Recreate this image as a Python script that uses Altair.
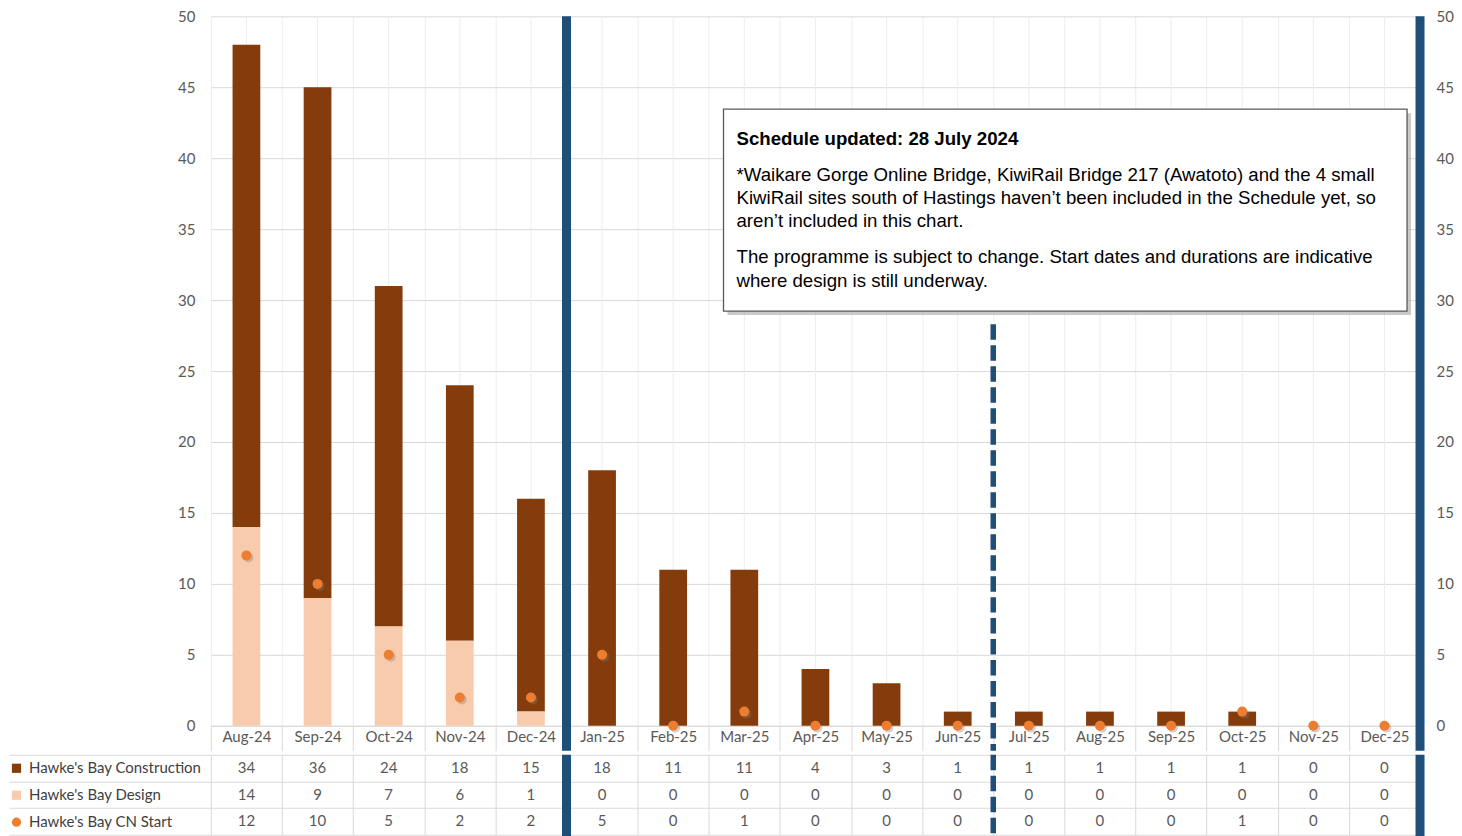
import altair as alt
import pandas as pd

# ---------------- data ----------------
months = ["Aug-24", "Sep-24", "Oct-24", "Nov-24", "Dec-24", "Jan-25", "Feb-25",
          "Mar-25", "Apr-25", "May-25", "Jun-25", "Jul-25", "Aug-25", "Sep-25",
          "Oct-25", "Nov-25", "Dec-25"]
construction = [34, 36, 24, 18, 15, 18, 11, 11, 4, 3, 1, 1, 1, 1, 1, 0, 0]
design = [14, 9, 7, 6, 1, 0, 0, 0, 0, 0, 0, 0, 0, 0, 0, 0, 0]
cn_start = [12, 10, 5, 2, 2, 5, 0, 1, 0, 0, 0, 0, 0, 0, 1, 0, 0]

series_names = ["Hawke's Bay Construction", "Hawke's Bay Design", "Hawke's Bay CN Start"]
series_colors = ["#843C0C", "#F8CBAD", "#ED7D31"]
series_shapes = ["square", "square", "circle"]
y_ticks = [0, 5, 10, 15, 20, 25, 30, 35, 40, 45, 50]

year_divider = ["Jan-25"]      # solid line at left edge of this month
end_divider = ["Dec-25"]       # solid line at right edge of this month
dashed_divider = ["Jul-25"]    # dashed line at left edge of this month

note_title = "Schedule updated: 28 July 2024"
note_para1 = [
    "*Waikare Gorge Online Bridge, KiwiRail Bridge 217 (Awatoto) and the 4 small",
    "KiwiRail sites south of Hastings haven\u2019t been included in the Schedule yet, so",
    "aren\u2019t included in this chart.",
]
note_para2 = [
    "The programme is subject to change. Start dates and durations are indicative",
    "where design is still underway.",
]

# ---------------- layout ----------------
W, H = 1210, 710
AXIS_ROW = 25
TH = 80
LEG_COL = 202
NAVY = "#1F4E79"
GRID_H = "#D9D9D9"
GRID_V = "#EDEDED"
TXT = "#595959"
FONT = "Lato"
SOLID_W = 9
DASH_W = 5.5
DASH = [10, 11]
NOTE_FS = 18.67

bars_df = pd.DataFrame({
    "month": months * 2,
    "series": [series_names[0]] * len(months) + [series_names[1]] * len(months),
    "value": construction + design,
    "order": [1] * len(months) + [0] * len(months),
})
pts_df = pd.DataFrame({"month": months, "cn": cn_start})
months_df = pd.DataFrame({"month": months})

xscale = alt.Scale(type="band", domain=months, paddingInner=0, paddingOuter=0)
x_axis = alt.Axis(title=None, labelAngle=0, labelFont=FONT, labelFontSize=15,
                  labelColor=TXT, labelPadding=-21, ticks=True, tickSize=AXIS_ROW,
                  tickBand="extent", tickColor=GRID_H, domainColor=GRID_H,
                  grid=True, gridColor=GRID_V)


def mx(band=None):
    kw = {}
    if band is not None:
        kw["bandPosition"] = band
    return alt.X("month:N", sort=months, scale=xscale, axis=x_axis, **kw)


yscale = alt.Scale(domain=[0, 50], nice=False)
y_left = alt.Axis(title=None, values=y_ticks, domain=False, ticks=False,
                  labelPadding=16, labelFont=FONT, labelFontSize=15,
                  labelColor=TXT, gridColor=GRID_H)
y_right = alt.Axis(title=None, orient="right", values=y_ticks, domain=False,
                   ticks=False, grid=False, labelPadding=16, labelFont=FONT,
                   labelFontSize=15, labelColor=TXT)

center_grid = alt.Chart(months_df).mark_rule(color=GRID_V, strokeWidth=1).encode(
    x=mx(), y=alt.value(0), y2=alt.value(H))

bars = alt.Chart(bars_df).mark_bar(width=alt.RelativeBandSize(0.39)).encode(
    x=mx(),
    y=alt.Y("value:Q", stack="zero", scale=yscale, axis=y_left),
    color=alt.Color("series:N", scale=alt.Scale(domain=series_names, range=series_colors),
                    legend=None),
    order=alt.Order("order:Q"),
)

pt_shadow = alt.Chart(pts_df).mark_circle(size=100, color="#7F7F7F", opacity=0.35,
                                          xOffset=2, yOffset=2).encode(
    x=mx(), y=alt.Y("cn:Q", scale=yscale, axis=None))
points = alt.Chart(pts_df).mark_circle(size=100, color=series_colors[2], opacity=1).encode(
    x=mx(), y=alt.Y("cn:Q", scale=yscale, axis=y_right))

hs = SOLID_W / 2
hd = DASH_W / 2
solid1 = alt.Chart(pd.DataFrame({"month": year_divider})).mark_rule(
    color=NAVY, strokeWidth=SOLID_W, strokeCap="square").encode(
    x=mx(0), y=alt.value(hs), y2=alt.value(H + AXIS_ROW - hs))
solid2 = alt.Chart(pd.DataFrame({"month": end_divider})).mark_rule(
    color=NAVY, strokeWidth=SOLID_W, strokeCap="square").encode(
    x=mx(1), y=alt.value(hs), y2=alt.value(H + AXIS_ROW - hs))
dashed = alt.Chart(pd.DataFrame({"month": dashed_divider})).mark_rule(
    color=NAVY, strokeWidth=DASH_W, strokeCap="square", strokeDash=DASH).encode(
    x=mx(0), y=alt.value(311), y2=alt.value(H + AXIS_ROW - hd))

one = alt.Data(values=[{}])
BX0, BX1, BY0, BY1 = 513, 1197, 93, 295
box_shadow = alt.Chart(one).mark_rect(fill="#9E9E9E", opacity=0.55).encode(
    x=alt.value(BX0 + 4), x2=alt.value(BX1 + 4), y=alt.value(BY0 + 4), y2=alt.value(BY1 + 4))
box = alt.Chart(one).mark_rect(fill="white", stroke="#595959", strokeWidth=1.3).encode(
    x=alt.value(BX0), x2=alt.value(BX1), y=alt.value(BY0), y2=alt.value(BY1))

TX = 526
note_layers = [alt.Chart(one).mark_text(text=note_title, align="left", baseline="middle",
                                        font="Liberation Sans", fontSize=NOTE_FS,
                                        fontWeight="bold", color="#000000").encode(
    x=alt.value(TX), y=alt.value(123))]
for i, line in enumerate(note_para1):
    note_layers.append(alt.Chart(one).mark_text(text=line, align="left", baseline="middle",
                                                font="Liberation Sans", fontSize=NOTE_FS,
                                                color="#000000").encode(
        x=alt.value(TX), y=alt.value(159 + 23 * i)))
for i, line in enumerate(note_para2):
    note_layers.append(alt.Chart(one).mark_text(text=line, align="left", baseline="middle",
                                                font="Liberation Sans", fontSize=NOTE_FS,
                                                color="#000000").encode(
        x=alt.value(TX), y=alt.value(241 + 24 * i)))

main = alt.layer(center_grid, bars, pt_shadow, points, solid1, solid2, dashed,
                 box_shadow, box, *note_layers).resolve_axis(y="independent").properties(
    width=W, height=H)

# ---------------- data table ----------------
rows = series_names
table_df = pd.DataFrame({
    "month": months * 3,
    "row": [rows[0]] * len(months) + [rows[1]] * len(months) + [rows[2]] * len(months),
    "val": construction + design + cn_start,
})

tx_axis = alt.Axis(title=None, labels=False, ticks=False, domain=False, grid=True,
                   gridColor=GRID_H, tickBand="extent")


def tx(band=None):
    kw = {}
    if band is not None:
        kw["bandPosition"] = band
    return alt.X("month:N", sort=months, scale=xscale, axis=tx_axis, **kw)


ty = alt.Y("row:N", sort=rows,
           scale=alt.Scale(type="band", domain=rows, paddingInner=0, paddingOuter=0),
           axis=alt.Axis(title=None, labels=False, ticks=True, tickSize=LEG_COL,
                         tickBand="extent", tickColor=GRID_H, domain=False,
                         grid=True, gridColor=GRID_H))

leg = alt.Legend(title=None, orient="none", legendX=-202, legendY=6, direction="vertical",
                 symbolSize=85, symbolStrokeWidth=0, symbolOpacity=1, labelFont=FONT,
                 labelFontSize=15, labelColor="#404040", labelLimit=400, rowPadding=11,
                 padding=0, labelOffset=5)

tvals = alt.Chart(table_df).mark_text(font=FONT, fontSize=15, color=TXT).encode(
    x=tx(), y=ty, text="val:Q")
tleg = alt.Chart(pd.DataFrame({"row": rows})).mark_point(filled=True, size=0, opacity=1).encode(
    y=ty,
    color=alt.Color("row:N", scale=alt.Scale(domain=rows, range=series_colors), legend=leg),
    shape=alt.Shape("row:N", scale=alt.Scale(domain=rows, range=series_shapes), legend=leg),
)
tsolid1 = alt.Chart(pd.DataFrame({"month": year_divider})).mark_rule(
    color=NAVY, strokeWidth=SOLID_W, strokeCap="square").encode(
    x=tx(0), y=alt.value(hs), y2=alt.value(TH))
tsolid2 = alt.Chart(pd.DataFrame({"month": end_divider})).mark_rule(
    color=NAVY, strokeWidth=SOLID_W, strokeCap="square").encode(
    x=tx(1), y=alt.value(hs), y2=alt.value(TH))
tdashed = alt.Chart(pd.DataFrame({"month": dashed_divider})).mark_rule(
    color=NAVY, strokeWidth=DASH_W, strokeCap="square", strokeDash=DASH).encode(
    x=tx(0), y=alt.value(hd), y2=alt.value(TH))

table = alt.layer(tvals, tleg, tsolid1, tsolid2, tdashed).properties(width=W, height=TH)

chart = alt.vconcat(main, table, spacing=0).resolve_scale(
    color="independent", shape="independent").properties(
    padding={"left": 0, "top": 1, "right": 0, "bottom": 0},
    background="white",
).configure_view(stroke=None)

chart.save("out.html", embed_options={"renderer": "svg", "actions": False})
